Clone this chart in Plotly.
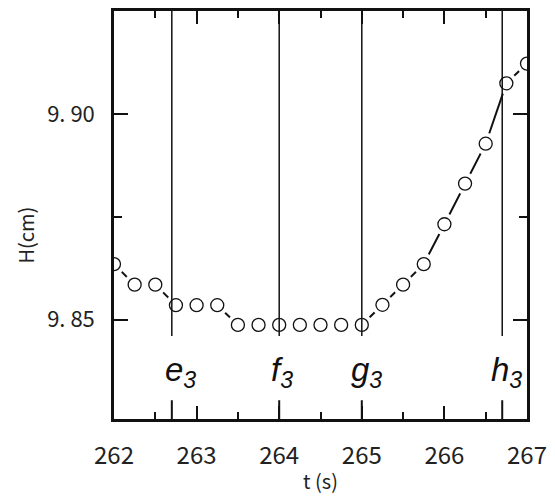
import plotly.graph_objects as go

# ---- data ----
t_s = [262.00, 262.25, 262.50, 262.75, 263.00, 263.25, 263.50, 263.75, 264.00,
       264.25, 264.50, 264.75, 265.00, 265.25, 265.50, 265.75, 266.00, 266.25,
       266.50, 266.75, 267.00]
h_cm = [9.8635, 9.8585, 9.8585, 9.8535, 9.8535, 9.8535, 9.8487, 9.8487, 9.8487,
        9.8487, 9.8487, 9.8487, 9.8487, 9.8536, 9.8585, 9.8635, 9.8732, 9.8831,
        9.8928, 9.9075, 9.9123]

event_names = ["e", "f", "g", "h"]
event_t = [262.7, 264.0, 265.0, 266.7]
event_line_bottom = 9.846
event_label_y = 9.8372
event_label_shift = [-9, -10, -13, -13]

x_ticks = [262, 263, 264, 265, 266, 267]
y_ticks = [9.85, 9.90]
y_tick_text = ["9. 85", "9. 90"]

x_range = [262, 267]
y_range = [9.8258, 9.9251]

JP = "Noto Sans CJK JP"
x_tick_font = dict(family=JP, size=24, color="#222222")
y_tick_font = dict(family=JP, size=22, color="#222222")

fig = go.Figure()

# connecting line
fig.add_trace(go.Scatter(x=t_s, y=h_cm, mode="lines",
                         line=dict(color="#111111", width=2), hoverinfo="skip"))
# white halos that open a gap in the line around every point
fig.add_trace(go.Scatter(x=t_s, y=h_cm, mode="markers",
                         marker=dict(size=22, color="white", line=dict(width=0)),
                         hoverinfo="skip"))
# open circles
fig.add_trace(go.Scatter(x=t_s, y=h_cm, mode="markers",
                         marker=dict(size=13, color="white", symbol="circle",
                                     line=dict(color="#111111", width=1.3))))

shapes = []
annotations = []
for name, tx, sh in zip(event_names, event_t, event_label_shift):
    # long vertical line from the top of the frame
    shapes.append(dict(type="line", xref="x", yref="y", x0=tx, x1=tx,
                       y0=event_line_bottom, y1=y_range[1],
                       line=dict(color="#111111", width=1.5), layer="above"))
    # stub from the bottom axis
    shapes.append(dict(type="line", xref="x", yref="y domain", x0=tx, x1=tx,
                       y0=0, y1=0.046, line=dict(color="#111111", width=2),
                       layer="above"))
    annotations.append(dict(x=tx, y=event_label_y, xref="x", yref="y",
                            text="<i>%s</i><sub><i>3</i></sub>" % name,
                            showarrow=False, xanchor="left", yanchor="middle",
                            xshift=sh,
                            font=dict(family="Liberation Sans", size=33,
                                      color="#111111")))

annotations.append(dict(x=0.5, y=-0.1905, xref="paper", yref="paper",
                        text="t (s)", showarrow=False, xanchor="center",
                        yanchor="bottom",
                        font=dict(family=JP, size=20, color="#222222")))
annotations.append(dict(x=-0.215, y=0.45, xref="paper", yref="paper",
                        text="H(cm)", showarrow=False, textangle=-90,
                        xanchor="center", yanchor="middle",
                        font=dict(family=JP, size=20, color="#222222")))

fig.update_layout(
    width=555, height=499,
    margin=dict(l=114, r=26, t=8, b=80),
    paper_bgcolor="white", plot_bgcolor="white",
    showlegend=False,
    shapes=shapes, annotations=annotations,
)
fig.update_xaxes(range=x_range, tickvals=x_ticks, ticks="inside", ticklen=13,
                 tickwidth=2, tickcolor="#111111", showgrid=False, zeroline=False,
                 showline=True, linewidth=2.5, linecolor="#111111",
                 mirror="allticks", tickfont=x_tick_font, ticklabelstandoff=13,
                 minor=dict(ticks="inside", dtick=0.5, tick0=262, ticklen=7,
                            tickwidth=2, tickcolor="#111111", showgrid=False))
fig.update_yaxes(range=y_range, tickvals=y_ticks, ticktext=y_tick_text,
                 ticks="inside", ticklen=14, tickwidth=2, tickcolor="#111111",
                 showgrid=False, zeroline=False, showline=True, linewidth=2.5,
                 linecolor="#111111", mirror="allticks", tickfont=y_tick_font,
                 ticklabelstandoff=12,
                 minor=dict(ticks="inside", dtick=0.025, tick0=9.85, ticklen=8,
                            tickwidth=2, tickcolor="#111111", showgrid=False))

# the page's default body margin would shift the 555x499 figure; remove it
fig.write_html("out.html", config={"displayModeBar": False},
               post_script="document.body.style.margin='0';"
                           "document.body.style.overflow='hidden';")
